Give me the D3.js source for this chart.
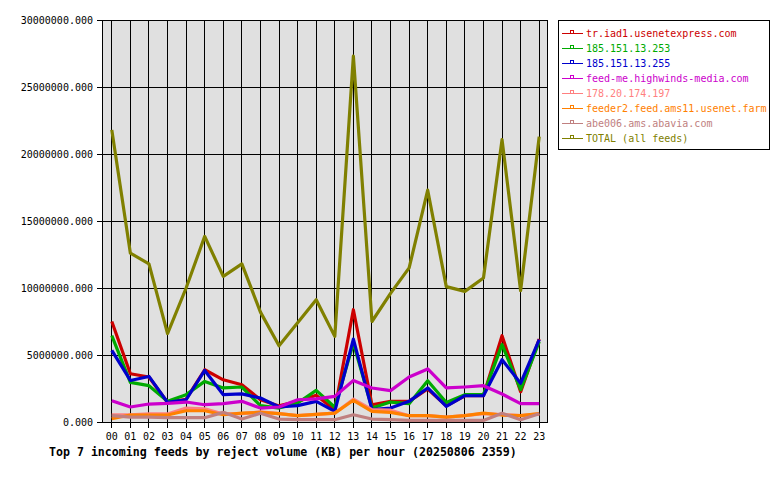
<!DOCTYPE html>
<html><head><meta charset="utf-8">
<script src="https://cdn.jsdelivr.net/npm/d3@7"></script>
<style>
body{margin:0;background:#fff;}
svg text{font-family:"DejaVu Sans Mono",monospace;}
</style></head>
<body><svg id="c" width="780" height="480"></svg>
<script>
const hours = ["00","01","02","03","04","05","06","07","08","09","10","11","12","13","14","15","16","17","18","19","20","21","22","23"];
const yTicks = [0,5000000,10000000,15000000,20000000,25000000,30000000];
const seriesNames = ["tr.iad1.usenetexpress.com","185.151.13.253","185.151.13.255","feed-me.highwinds-media.com","178.20.174.197","feeder2.feed.ams11.usenet.farm","abe006.ams.abavia.com","TOTAL (all feeds)"];
const seriesColors = ["#cc0000","#00aa00","#0000cc","#cc00cc","#ff8080","#ff8000","#c08080","#808000"];
const tr_iad1 = [7.5,3.6,3.36,1.46,1.7,3.9,3.15,2.78,1.66,1.2,1.54,2.0,0.9,8.38,1.29,1.54,1.54,2.46,1.2,1.96,1.96,6.44,2.25,6.2];
const ip253 = [6.44,2.96,2.71,1.54,2.04,3.03,2.54,2.61,1.22,1.04,1.42,2.36,1.1,5.9,1.04,1.49,1.37,3.08,1.46,2.04,2.04,5.77,2.41,6.0];
const ip255 = [5.34,3.1,3.4,1.46,1.66,3.85,2.04,2.1,1.79,1.12,1.22,1.54,0.79,6.19,0.92,1.04,1.54,2.54,1.16,1.96,1.96,4.65,2.9,6.14];
const feedme = [1.59,1.12,1.34,1.39,1.49,1.29,1.37,1.54,1.04,1.12,1.66,1.72,1.91,3.1,2.54,2.34,3.36,3.96,2.54,2.61,2.71,2.09,1.37,1.37];
const ip197 = [0.54,0.54,0.6,0.6,1.04,0.99,0.6,0.62,0.75,0.62,0.47,0.57,0.66,1.7,0.92,0.88,0.47,0.47,0.37,0.47,0.62,0.55,0.47,0.6];
const feeder2 = [0.25,0.52,0.52,0.52,0.84,0.84,0.54,0.66,0.72,0.62,0.47,0.57,0.66,1.62,0.79,0.72,0.47,0.47,0.37,0.47,0.66,0.52,0.47,0.62];
const abe006 = [0.47,0.37,0.37,0.32,0.32,0.32,0.72,0.22,0.66,0.22,0.17,0.17,0.17,0.54,0.22,0.17,0.12,0.12,0.12,0.12,0.12,0.66,0.17,0.62];
const total = [21.8,12.6,11.8,6.6,10.0,13.85,10.87,11.8,8.2,5.69,7.4,9.13,6.39,27.3,7.5,9.6,11.5,17.3,10.1,9.75,10.75,21.07,9.8,21.3];
const seriesData = [tr_iad1, ip253, ip255, feedme, ip197, feeder2, abe006, total];

const svg = d3.select("#c");
const L=102, R=548, T=20, B=422;
const x = d3.scaleLinear().domain([-0.5, hours.length-0.5]).range([L, R]);
const y = d3.scaleLinear().domain([0, 30000000]).range([B, T]);

svg.append("rect").attr("x",L).attr("y",T).attr("width",R-L).attr("height",B-T).attr("fill","#e0e0e0");

const g = svg.append("g").attr("shape-rendering","crispEdges");
g.selectAll("line.hg").data(yTicks).join("line")
  .attr("x1",L).attr("x2",R).attr("y1",d=>Math.round(y(d))+0.5).attr("y2",d=>Math.round(y(d))+0.5)
  .attr("stroke","#000");
g.selectAll("line.vg").data(hours).join("line")
  .attr("x1",(d,i)=>Math.round(x(i))+0.5).attr("x2",(d,i)=>Math.round(x(i))+0.5).attr("y1",T).attr("y2",B+6)
  .attr("stroke","#000");
g.selectAll("line.yt").data(yTicks).join("line")
  .attr("x1",L-5).attr("x2",L).attr("y1",d=>Math.round(y(d))+0.5).attr("y2",d=>Math.round(y(d))+0.5)
  .attr("stroke","#000");
g.append("rect").attr("x",L+0.5).attr("y",T+0.5).attr("width",R-L-1).attr("height",B-T).attr("fill","none").attr("stroke","#000");

svg.selectAll("text.yl").data(yTicks).join("text")
  .attr("x",93).attr("y",d=>y(d)+4).attr("text-anchor","end").attr("font-size","10px").attr("fill","#000")
  .text(d=>d3.format(".3f")(d));
svg.selectAll("text.xl").data(hours).join("text")
  .attr("x",(d,i)=>x(i)+0.5).attr("y",439.5).attr("text-anchor","middle").attr("font-size","10px").attr("fill","#000")
  .text(d=>d);

const line = d3.line().x((d,i)=>x(i)+0.5).y(d=>y(d*1000000));
seriesData.forEach((s,k)=>{
  svg.append("path").datum(s).attr("d",line).attr("fill","none")
    .attr("stroke",seriesColors[k]).attr("stroke-width",3.2).attr("stroke-linejoin","round");
});

svg.append("text").attr("x",49).attr("y",456).attr("font-size","11.6px").attr("font-weight","bold").attr("fill","#000")
  .text("Top 7 incoming feeds by reject volume (KB) per hour (20250806 2359)");

const lg = svg.append("g");
lg.append("rect").attr("x",558.5).attr("y",20.5).attr("width",211).attr("height",129).attr("fill","#fff").attr("stroke","#000").attr("shape-rendering","crispEdges");
seriesNames.forEach((n,k)=>{
  const yy = 33 + k*15;
  lg.append("line").attr("x1",562).attr("x2",583).attr("y1",yy+0.5).attr("y2",yy+0.5).attr("stroke",seriesColors[k]).attr("shape-rendering","crispEdges");
  lg.append("rect").attr("x",570.5).attr("y",yy-2.5).attr("width",3).attr("height",3).attr("fill","none").attr("stroke",seriesColors[k]).attr("shape-rendering","crispEdges");
  lg.append("text").attr("x",586).attr("y",yy+4).attr("font-size","10px").attr("fill",seriesColors[k]).text(n);
});
</script></body></html>
